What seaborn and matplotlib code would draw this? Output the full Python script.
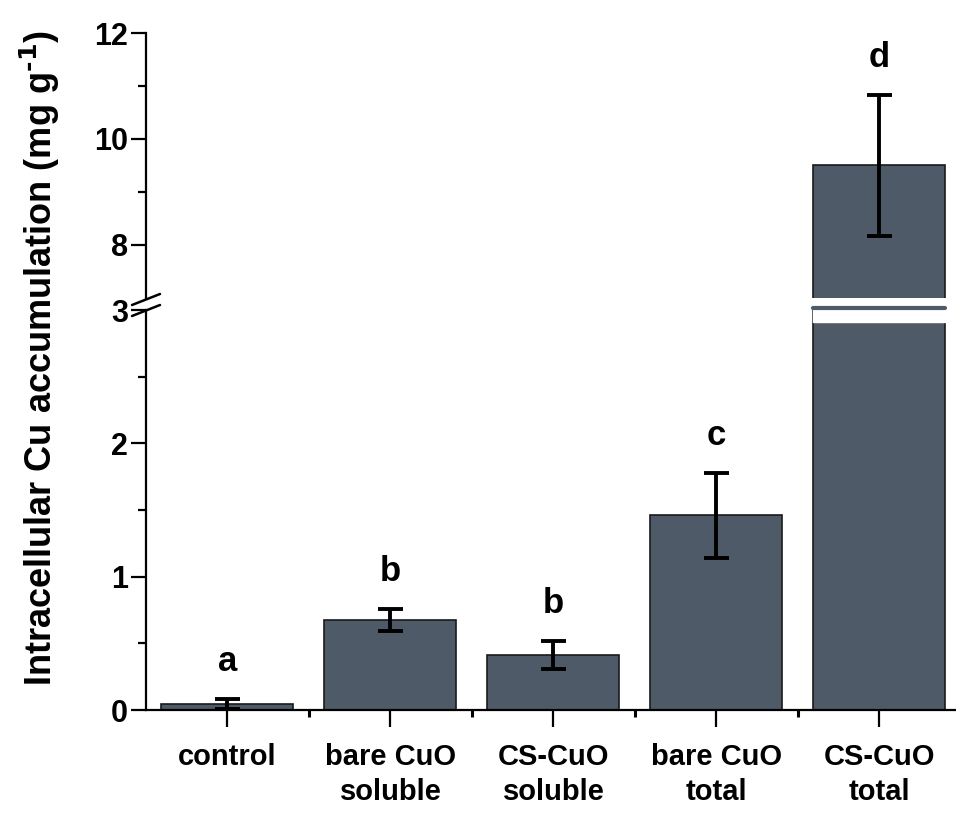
import numpy as np
import pandas as pd
import seaborn as sns
import matplotlib.pyplot as plt
from matplotlib.lines import Line2D

# Data
groups = ['control', 'bare CuO\nsoluble', 'CS-CuO\nsoluble', 'bare CuO\ntotal', 'CS-CuO\ntotal']
means = [0.045, 0.675, 0.415, 1.46, 9.50]
errors = [0.035, 0.085, 0.105, 0.32, 1.33]
letters = ['a', 'b', 'b', 'c', 'd']

df = pd.DataFrame({'group': groups, 'value': means, 'err': errors})

sns.set_style('ticks')
plt.rcParams['font.family'] = ['Liberation Sans', 'DejaVu Sans']
plt.rcParams['font.weight'] = 'bold'
plt.rcParams['axes.linewidth'] = 1.6
for k in ['text.color', 'axes.labelcolor', 'xtick.color', 'ytick.color', 'axes.edgecolor']:
    plt.rcParams[k] = 'black'

bar_color = '#4f5a69'
xlim = (-0.5, 4.47)

fig = plt.figure(figsize=(9.56, 8.15), dpi=100)
ax_top = fig.add_axes([0.1527, 0.6344, 0.8473, 0.3251])
ax_low = fig.add_axes([0.1527, 0.1288, 0.8473, 0.4908])

for ax in (ax_top, ax_low):
    sns.barplot(data=df, x='group', y='value', order=groups, color=bar_color,
                width=0.81, edgecolor='#1a1a1a', linewidth=1.2, saturation=1,
                errorbar=None, ax=ax)
    ax.errorbar(np.arange(len(groups)), df['value'], yerr=df['err'], fmt='none',
                ecolor='black', elinewidth=2.8, capsize=9, capthick=2.8, zorder=5)
    ax.set_xlim(*xlim)
    ax.set_xlabel('')
    ax.set_ylabel('')
    ax.spines['top'].set_visible(False)
    ax.spines['right'].set_visible(False)
    ax.tick_params(axis='y', which='major', length=11, width=1.6, pad=2, labelsize=22)
    ax.tick_params(axis='y', which='minor', length=6, width=1.6)

# upper part of broken axis
ax_top.set_ylim(7, 12)
ax_top.set_yticks([8, 10, 12])
ax_top.set_yticks([9, 11], minor=True)
ax_top.spines['bottom'].set_visible(False)
ax_top.tick_params(axis='x', which='both', bottom=False, labelbottom=False)

# lower part
ax_low.set_ylim(0, 3)
ax_low.set_yticks([0, 1, 2, 3])
ax_low.set_yticks([0.5, 1.5, 2.5], minor=True)
ax_low.set_xticks(range(len(groups)))
ax_low.set_xticklabels(groups, fontsize=21, fontweight='bold', linespacing=1.3)
ax_low.set_xticks([0.5, 1.5, 2.5, 3.5], minor=True)
ax_low.tick_params(axis='x', which='major', length=12, width=1.6, pad=12)
ax_low.tick_params(axis='x', which='minor', length=5, width=2.2)

# significance letters above the error bars
for i, (m, e, t) in enumerate(zip(means, errors, letters)):
    ax = ax_top if m > 3 else ax_low
    ax.annotate(t, (i, m + e), xytext=(0, 27), textcoords='offset points',
                ha='center', va='center', fontsize=25, fontweight='bold')

# break on the tall bar: white gap + thin line
big = int(np.argmax(means))
bx = [big - 0.405, big + 0.405]
ax_low.fill_between(bx, 2.91, 3.0, color='white', zorder=3, clip_on=False)
ax_low.plot(bx, [3.015, 3.015], color=bar_color, lw=3, clip_on=False, zorder=4)

# break slashes on the y axis
def fx(px):
    return px / 956

def fy(py):
    return 1 - py / 815

for y0 in (305, 316):
    fig.add_artist(Line2D([fx(132), fx(160)], [fy(y0), fy(y0 - 11)], color='black', lw=1.8))

fig.text(0.042, 0.561, 'Intracellular Cu accumulation (mg g$^{\\mathrm{\u2010}\\mathbf{1}}$)',
         rotation=90, ha='center', va='center', fontsize=26, fontweight='bold')

fig.savefig('out.png', dpi=100)
